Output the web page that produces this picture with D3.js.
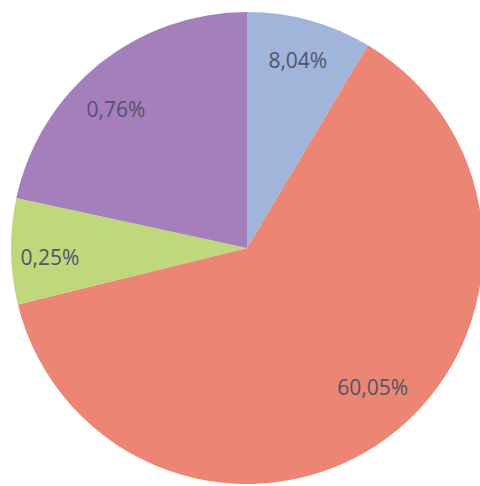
<!DOCTYPE html>
<html><head><meta charset="utf-8">
<script src="https://cdn.jsdelivr.net/npm/d3@7"></script>
<style>html,body{margin:0;padding:0;background:#fff;}</style>
</head><body>
<svg id="chart" width="480" height="486"></svg>
<script>
const categories = ["A", "B", "C", "D"];
const values = [8.56, 62.6, 7.25, 21.6];
const labels = ["8,04%", "60,05%", "0,25%", "0,76%"];
const colors = ["#a1b5db", "#ec8574", "#c0d87c", "#a47fbb"];

// layout (label nudges, in px, relative to the slice label centroid)
const labelNudge = [[0, -4], [12, -15], [-6, 6], [-11, 10]];

const svg = d3.select("#chart");
const cx = 247, cy = 248, R = 236;
const g = svg.append("g").attr("transform", `translate(${cx},${cy})`);
const pie = d3.pie().sort(null).value(d => d.v);
const data = pie(categories.map((c, i) => ({c, i, v: values[i], label: labels[i], color: colors[i]})));
const arc = d3.arc().innerRadius(0).outerRadius(R);
const labelArc = d3.arc().innerRadius(R * 0.81).outerRadius(R * 0.81);

g.selectAll("path").data(data).join("path")
  .attr("d", arc).attr("fill", d => d.data.color)
  .attr("stroke", "none");

g.selectAll("text").data(data).join("text")
  .attr("transform", d => {
    const [x, y] = labelArc.centroid(d);
    const n = labelNudge[d.data.i];
    return `translate(${x + n[0]},${y + n[1]})`;
  })
  .attr("text-anchor", "middle").attr("dominant-baseline", "central")
  .attr("font-family", "'Open Sans', sans-serif")
  .attr("font-size", 21).attr("fill", "#50546a")
  .text(d => d.data.label);
</script>
</body></html>
